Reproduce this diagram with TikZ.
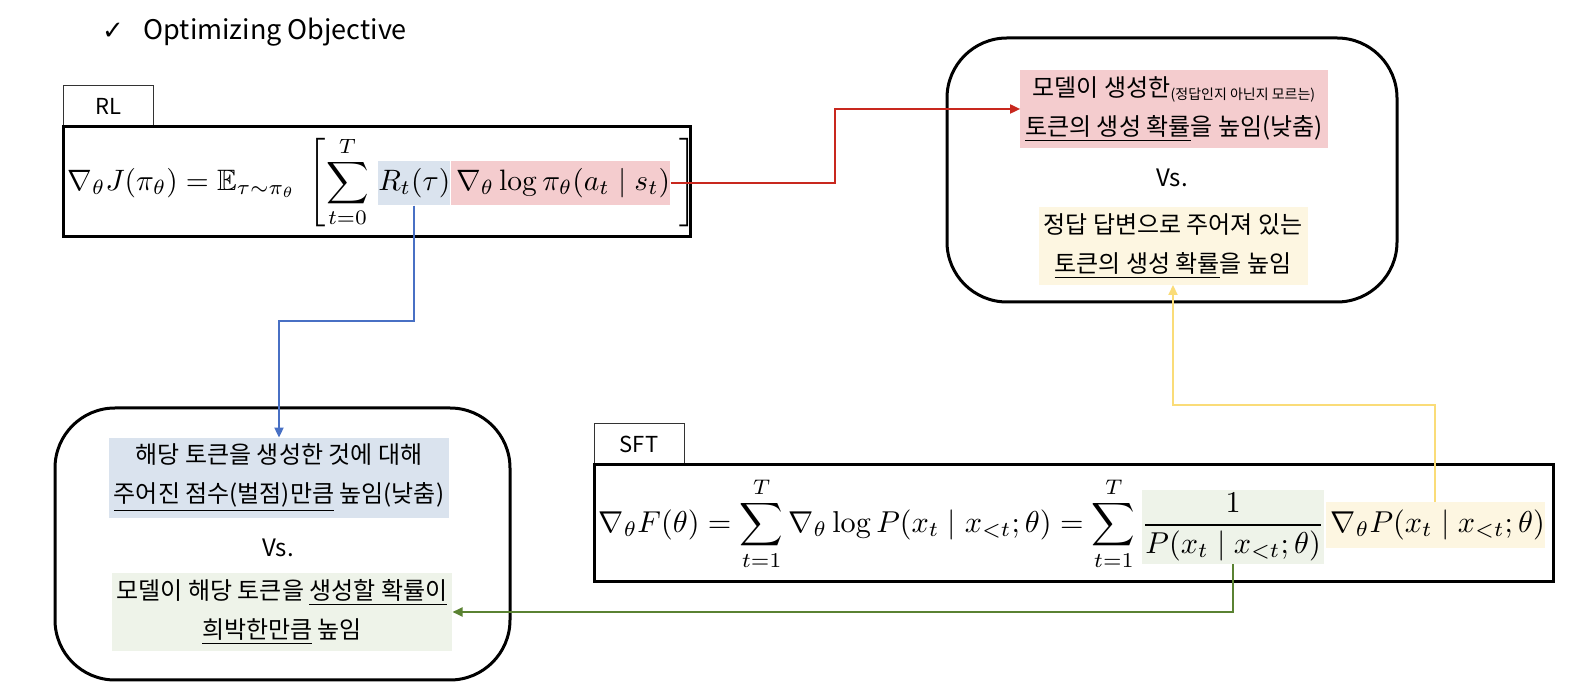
\documentclass[tikz,border=0pt]{standalone}
\usepackage{amsmath,amssymb}
\usepackage[no-math]{fontspec}
\setmainfont{Noto Sans CJK KR}
\newfontfamily\checkfont{DejaVu Sans}
\usetikzlibrary{calc,positioning,arrows.meta}

\tikzset{
  bigbox/.style={draw=black,line width=3pt,rounded corners=60pt,inner sep=0pt},
  eqbox/.style={draw=black,line width=3pt,inner sep=0pt},
  tabbox/.style={draw=black!80,line width=0.8pt,minimum width=90pt,minimum height=42pt,inner sep=0pt,font=\fontsize{22}{22}\selectfont},
  eqpart/.style={inner sep=0pt,scale=#1,anchor=base west},
  eqpart/.default=2.95,
  hlpart/.style={eqpart=#1,inner xsep=0pt,inner ysep=2.5pt},
  hlpart/.default=2.95,
  note/.style={align=center,inner xsep=5pt,inner ysep=6pt,font=\fontsize{24}{39}\selectfont},
  link/.style={line width=1.8pt,-{Triangle[length=10pt,width=9pt]}}
}

\begin{document}
\begin{tikzpicture}[x=1pt,y=1pt]
\definecolor{hlRed}{RGB}{244,204,206}
\definecolor{hlBlue}{RGB}{218,227,238}
\definecolor{hlGreen}{RGB}{238,243,233}
\definecolor{hlYellow}{RGB}{253,246,225}
\definecolor{lnRed}{RGB}{200,40,30}
\definecolor{lnBlue}{RGB}{72,112,196}
\definecolor{lnYellow}{RGB}{250,220,120}
\definecolor{lnGreen}{RGB}{90,130,50}
\path[use as bounding box,fill=white] (0,0) rectangle (1572,688);

% title
\node[font=\checkfont\fontsize{26}{26}\selectfont] (check) at (113,657) {✓};
\node[font=\fontsize{27}{27}\selectfont,anchor=west] (title) at (140,656) {Optimizing Objective};

% RL
\node[tabbox] (rlTab) at (108,582) {RL};
\node[eqbox,minimum width=627pt,minimum height=110pt] (rlBox) at (376.5,506) {};
\node[eqpart,anchor=west] (rlA) at (67,506) {$\displaystyle \nabla_\theta J(\pi_\theta)=\mathbb{E}_{\tau\sim\pi_\theta}\;\left[\sum_{t=0}^{T}\right.\,$};
\node[hlpart,fill=hlBlue] (rlB) at (rlA.base east) {$R_t(\tau)$};
\node[hlpart,fill=hlRed] (rlC) at (rlB.base east) {$\,\nabla_\theta\log\pi_\theta(a_t\mid s_t)$};
\node[eqpart] (rlD) at (rlC.base east) {$\displaystyle\,\left.\vphantom{\sum_{t=0}^{T}}\right]$};

% SFT
\node[tabbox] (sftTab) at (639,244) {SFT};
\node[eqbox,minimum width=959pt,minimum height=117pt] (sftBox) at (1073.5,164.5) {};
\node[eqpart=3.02,anchor=west] (sftA) at (598,164) {$\displaystyle\nabla_\theta F(\theta)=\sum_{t=1}^{T}\nabla_\theta\log P(x_t\mid x_{<t};\theta)=\sum_{t=1}^{T}\,$};
\node[hlpart=3.02,inner ysep=1pt,fill=hlGreen] (sftB) at (sftA.base east) {$\displaystyle\frac{1}{P(x_t\mid x_{<t};\theta)}$};
\node[hlpart=3.02,fill=hlYellow] (sftC) at (sftB.base east) {$\,\nabla_\theta P(x_t\mid x_{<t};\theta)$};

% right box
\node[bigbox,minimum width=450pt,minimum height=264pt] (trBox) at (1172,518) {};
\node[note,fill=hlRed] (trRed) at (1174,579) {모델이 생성한\raisebox{-3pt}{\fontsize{14}{14}\selectfont(정답인지 아닌지 모르는)}\\ \underline{토큰의 생성 확률}을 높임(낮춤)};
\node[note] (trVs) at (1172,510) {Vs.};
\node[note,fill=hlYellow] (trYellow) at (1173,442) {정답 답변으로 주어져 있는\\ \underline{토큰의 생성 확률}을 높임};

% left box
\node[bigbox,minimum width=455pt,minimum height=272pt] (llBox) at (282.5,144) {};
\node[note,fill=hlBlue] (llBlue) at (279,210) {해당 토큰을 생성한 것에 대해\\ \underline{주어진 점수(벌점)만큼} 높임(낮춤)};
\node[note] (llVs) at (278,140) {Vs.};
\node[note,fill=hlGreen] (llGreen) at (282,76) {모델이 해당 토큰을 \underline{생성할 확률이}\\ \underline{희박한만큼} 높임};

% connectors
\draw[link,draw=lnRed] (rlC.east) -- ++(164,0) |- (trRed.west);
\draw[link,draw=lnBlue] (rlB.south) -- ++(0,-115) -| (llBlue.north);
\draw[link,draw=lnYellow] (sftC.north) -- ++(0,97) -| (trYellow.south);
\draw[link,draw=lnGreen] (sftB.south) |- (llGreen.east);
\end{tikzpicture}
\end{document}
